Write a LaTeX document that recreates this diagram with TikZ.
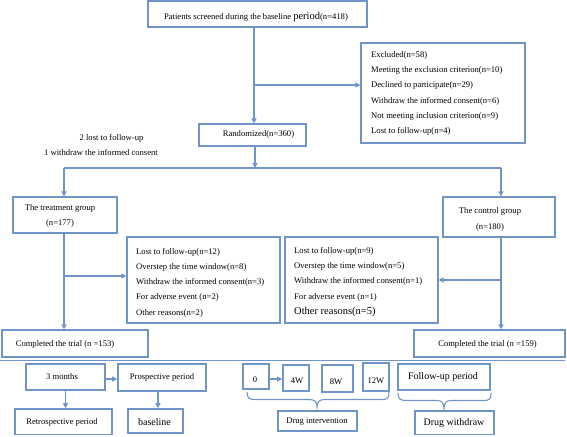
\documentclass[tikz,border=0pt]{standalone}
\usepackage{fontspec}
\setmainfont{Liberation Serif}
\usetikzlibrary{arrows.meta}
\definecolor{lb}{RGB}{112,148,200}
\tikzset{
  box/.style={draw=lb, line width=1.1pt, inner sep=0pt, fill=white},
  bbox/.style={draw=lb, line width=1.6pt, inner sep=0pt, fill=white},
  txt/.style={inner sep=0pt, font=\fontsize{8.6}{10}\selectfont},
  bigtxt/.style={inner sep=0pt, font=\fontsize{10}{12}\selectfont},
  ln/.style={draw=lb, line width=1.1pt},
  arr/.style={draw=lb, line width=1.1pt, -{Triangle[width=5pt,length=5pt]}},
}
\begin{document}
\begin{tikzpicture}[x=1pt,y=-1pt]
\useasboundingbox (0,0) rectangle (567,436);
% top part
\node[box, minimum width=219pt, minimum height=26pt] (top) at (257.5,14) {};
\node[txt] (toptxt) at (256,16.5) {Patients screened during the baseline {\fontsize{10.5}{10}\selectfont period}(n=418)};
\node[box, minimum width=164pt, minimum height=100pt] (excl) at (443,93) {};
\node[txt, align=left, anchor=west, font=\fontsize{8.6}{15.2}\selectfont] (excltxt) at (371,93.5) {Excluded(n=58)\\Meeting the exclusion criterion(n=10)\\Declined to participate(n=29)\\Withdraw the informed consent(n=6)\\Not meeting inclusion criterion(n=9)\\Lost to follow-up(n=4)};
\node[box, minimum width=107pt, minimum height=22pt] (rand) at (252.5,135) {};
\node[txt] (randtxt) at (258.5,134) {Randomized(n=360)};
\node[txt] (lost1) at (111.5,138) {2 lost to follow-up};
\node[txt] (lost2) at (101,153) {1 withdraw the informed consent};
\coordinate (c1) at (254,85);
\draw[arr] (top.south -| c1) -- (rand.north -| c1);
\draw[arr] (c1) -- (excl.west |- c1);
% split
\coordinate (s) at (255,168);
\coordinate (sL) at (64,168);
\coordinate (sR) at (501,168);
\draw[arr] (rand.south -| s) -- (s);
\draw[ln] (sL) -- (sR);
% groups
\node[box, minimum width=104pt, minimum height=36pt] (treat) at (65,215) {};
\node[txt, align=center, font=\fontsize{8.6}{14.5}\selectfont] (treattxt) at (60,216) {The treatment group\\(n=177)};
\node[box, minimum width=112pt, minimum height=40pt] (ctrl) at (499,217) {};
\node[txt, align=center, font=\fontsize{8.6}{16}\selectfont] (ctrltxt) at (490,219) {The control group\\(n=180)};
\draw[arr] (sL) -- (treat.north -| sL);
\draw[arr] (sR) -- (ctrl.north -| sR);
% reasons
\node[box, minimum width=153pt, minimum height=86pt] (reasL) at (203.5,280) {};
\node[txt, align=left, anchor=west, font=\fontsize{8.6}{15.25}\selectfont] (reasLtxt) at (136,282.5) {Lost to follow-up(n=12)\\Overstep the time window(n=8)\\Withdraw the informed consent(n=3)\\For adverse event (n=2)\\Other reasons(n=2)};
\node[box, minimum width=153pt, minimum height=86pt] (reasR) at (361.5,280) {};
\node[txt, align=left, anchor=west, font=\fontsize{8.6}{15.25}\selectfont] (reasRtxt) at (294,282) {Lost to follow-up(n=9)\\Overstep the time window(n=5)\\Withdraw the informed consent(n=1)\\For adverse event (n=1)\\{\fontsize{10.5}{10}\selectfont Other reasons(n=5)}};
% completed
\node[box, minimum width=146pt, minimum height=27pt] (compL) at (75,343.5) {};
\node[txt] (compLtxt) at (65,344) {Completed the trial (n =153)};
\node[box, minimum width=151pt, minimum height=27pt] (compR) at (489.5,343.5) {};
\node[txt] (compRtxt) at (487.5,344) {Completed the trial (n =159)};
\coordinate (tl) at (64,276);
\coordinate (tr) at (501,280);
\draw[arr] (treat.south -| tl) -- (compL.north -| tl);
\draw[arr] (tl) -- (reasL.west |- tl);
\draw[arr] (ctrl.south -| tr) -- (compR.north -| tr);
\draw[arr] (tr) -- (reasR.east |- tr);
% separator
\draw[ln] (0,360.5) -- (565,360.5);
% bottom left
\node[bbox, minimum width=79pt, minimum height=26pt] (m3) at (65.5,377) {};
\node[txt] (m3txt) at (62,377) {3 months};
\node[bbox, minimum width=88pt, minimum height=27pt] (pros) at (162,377.5) {};
\node[txt] (prostxt) at (162,377) {Prospective period};
\node[bbox, minimum width=97pt, minimum height=25.5pt] (retro) at (63.5,421.75) {};
\node[txt] (retrotxt) at (62,422.5) {Retrospective period};
\node[bbox, minimum width=55pt, minimum height=24pt] (base) at (155.5,421) {};
\node[bigtxt] (basetxt) at (154.5,422) {baseline};
\coordinate (pm) at (158,390);
\draw[arr] (m3.east |- 0,379) -- (pros.west |- 0,379);
\draw[arr] (m3.south) -- (m3.south |- retro.north);
\draw[arr] (pros.south -| pm) -- (base.north -| pm);
% timeline
\node[bbox, minimum width=26pt, minimum height=25pt] (t0) at (256,376.5) {};
\node[txt] (t0txt) at (255,380) {0};
\node[bbox, minimum width=26pt, minimum height=26pt] (t4) at (296,378) {};
\node[txt] (t4txt) at (297,381) {4W};
\node[bbox, minimum width=31pt, minimum height=27pt] (t8) at (337.5,378.5) {};
\node[txt] (t8txt) at (336,382) {8W};
\node[bbox, minimum width=26pt, minimum height=28pt] (t12) at (376,377) {};
\node[txt] (t12txt) at (376,381) {12W};
\draw[arr] (t0.east |- 0,379) -- (t4.west |- 0,379);
\draw[ln] (247,392) .. controls (247,398) and (249,399.5) .. (256,399.5) -- (309,399.5) .. controls (315,399.5) and (317,402) .. (317,407) .. controls (317,402) and (319,399.5) .. (325,399.5) -- (381,399.5) .. controls (388,399.5) and (389,398) .. (389,392);
\node[bbox, minimum width=79pt, minimum height=20pt] (di) at (317.5,421) {};
\node[txt] (ditxt) at (317,421.5) {Drug intervention};
% follow-up
\node[bbox, minimum width=92pt, minimum height=26pt] (fu) at (444,377) {};
\node[bigtxt] (futxt) at (443,377.5) {Follow-up period};
\draw[ln] (398,393) .. controls (398,399) and (400,400.5) .. (407,400.5) -- (437,400.5) .. controls (442,400.5) and (444,403) .. (444,409) .. controls (444,403) and (446,400.5) .. (451,400.5) -- (483,400.5) .. controls (490,400.5) and (491,399) .. (491,393);
\node[bbox, minimum width=79pt, minimum height=23.5pt] (dw) at (454.5,422.75) {};
\node[bigtxt] (dwtxt) at (454,423) {Drug withdraw};
\end{tikzpicture}
\end{document}
